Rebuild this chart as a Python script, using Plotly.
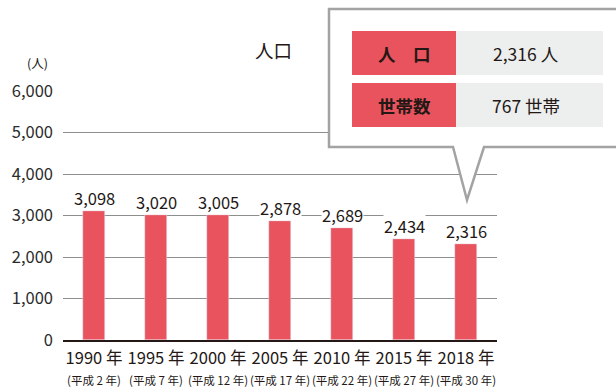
import plotly.graph_objects as go

# Population by census year
years = ["1990 年", "1995 年", "2000 年", "2005 年", "2010 年", "2015 年", "2018 年"]
eras = ["(平成 2 年)", "(平成 7 年)", "(平成 12 年)", "(平成 17 年)",
        "(平成 22 年)", "(平成 27 年)", "(平成 30 年)"]
population = [3098, 3020, 3005, 2878, 2689, 2434, 2316]

# Summary table in the callout
summary_labels = ["人　口", "世帯数"]
summary_values = ["2,316 人", "767 世帯"]

y_ticks = [0, 1000, 2000, 3000, 4000, 5000, 6000]

RED = "#E9535D"
TEXT = "#231815"
GRID = "#8E8E8E"
FONT = "Noto Sans CJK JP"

W, H = 616, 387
ML, MR, MT, MB = 63, 119, 91, 47
PW, PH = W - ML - MR, H - MT - MB


def fx(px):
    return (px - ML) / PW


def fy(py):
    return (H - MB - py) / PH


ticktext = [f"{y}<br><span style='font-size:11.5px'>{e}</span>" for y, e in zip(years, eras)]

fig = go.Figure()
fig.add_trace(go.Bar(
    x=years, y=population, marker_color=RED, width=0.34,
    hoverinfo="skip",
))

# value labels with white backing so gridlines break behind them
for yr, v in zip(years, population):
    fig.add_annotation(
        x=yr, y=v, text=f"{v:,}", showarrow=False, yanchor="bottom",
        xanchor="center", yshift=0, bgcolor="white", borderpad=0,
        font=dict(family=FONT, size=16.5, color=TEXT),
    )

# speech-bubble callout with pointer
pts = [(329, 9), (625, 9), (625, 147), (484, 147), (467, 200), (453, 147), (329, 147)]
path = "M " + " L ".join(f"{fx(x):.5f},{fy(y):.5f}" for x, y in pts) + " Z"
fig.add_shape(type="path", path=path, xref="paper", yref="paper",
              fillcolor="white", line=dict(color="#A3A3A3", width=2.5), layer="above")

rows = [(31, 75), (83, 127)]
for (y0, y1), lab, val in zip(rows, summary_labels, summary_values):
    fig.add_shape(type="rect", xref="paper", yref="paper",
                  x0=fx(352), x1=fx(456), y0=fy(y1), y1=fy(y0),
                  fillcolor=RED, line_width=0, layer="above")
    fig.add_shape(type="rect", xref="paper", yref="paper",
                  x0=fx(456), x1=fx(603), y0=fy(y1), y1=fy(y0),
                  fillcolor="#EDEEEE", line_width=0, layer="above")
    fig.add_annotation(xref="paper", yref="paper", x=fx(404), y=fy((y0 + y1) / 2),
                       xanchor="center", yanchor="middle",
                       text=f"<b>{lab}</b>", showarrow=False,
                       font=dict(family=FONT, size=17.5, color=TEXT))
    fig.add_annotation(xref="paper", yref="paper", x=fx(526), y=fy((y0 + y1) / 2),
                       xanchor="center", yanchor="middle",
                       text=val, showarrow=False,
                       font=dict(family=FONT, size=17.5, color=TEXT))

# chart title and unit
fig.add_annotation(xref="paper", yref="paper", x=fx(273), y=fy(50), text="人口",
                   xanchor="center", yanchor="middle",
                   showarrow=False, font=dict(family=FONT, size=18.5, color=TEXT))
fig.add_annotation(xref="paper", yref="paper", x=fx(37), y=fy(63), text="(人)",
                   xanchor="center", yanchor="middle",
                   showarrow=False, font=dict(family=FONT, size=12.5, color=TEXT))

fig.update_layout(
    width=W, height=H,
    margin=dict(l=ML, r=MR, t=MT, b=MB, autoexpand=False),
    plot_bgcolor="white", paper_bgcolor="white",
    showlegend=False, bargap=0,
    font=dict(family=FONT, color=TEXT),
    xaxis=dict(
        tickmode="array", tickvals=years, ticktext=ticktext,
        tickfont=dict(family=FONT, size=16.5, color=TEXT),
        showline=True, linecolor=TEXT, linewidth=1.6,
        showgrid=False, ticks="", automargin=False, tickangle=0,
        range=[-0.5, 6.5], ticklabelstandoff=2,
    ),
    yaxis=dict(
        range=[0, 6000], tickvals=y_ticks, tickformat=",",
        tickfont=dict(family=FONT, size=16.5, color="#2B2B2B"),
        showgrid=True, gridcolor=GRID, gridwidth=1.3,
        zeroline=False, ticks="", automargin=False, ticklabelstandoff=9,
    ),
)

fig.write_html("out.html")
